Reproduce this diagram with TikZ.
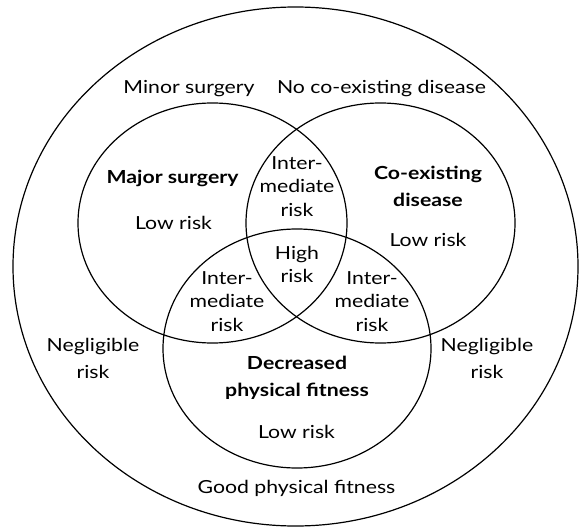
\documentclass[tikz,border=0pt]{standalone}
\usepackage{fontspec}
\setmainfont{Lato}[FakeStretch=1.18]
\begin{document}
\begin{tikzpicture}[x=1pt,y=-1pt,
  lbl/.style={font=\fontsize{18}{23.5}\selectfont, align=center, inner sep=0pt},
  blbl/.style={lbl, font=\fontsize{18}{27.5}\selectfont\bfseries},
  neg/.style={lbl, font=\fontsize{18}{27}\selectfont},
  ring/.style={draw=black, line width=1.2pt}]
\useasboundingbox (0,0) rectangle (580,529);
% outer set
\draw[ring] (295.5,266.5) ellipse [x radius=282.5, y radius=259.5];
% three sets
\draw[ring] (212.5,223) ellipse [x radius=134.5, y radius=120];
\draw[ring] (380.5,223) ellipse [x radius=134.5, y radius=120];
\draw[ring] (297,348.5) ellipse [x radius=134, y radius=119.5];
% single-line labels (placed on their baselines)
\node[lbl, anchor=base] (minor) at (189,94) {Minor surgery};
\node[lbl, anchor=base] (noco) at (381.5,94) {No co-existing disease};
\node[blbl, anchor=base] (major) at (172.5,184) {Major surgery};
\node[lbl, anchor=base] (lowA) at (173.5,229.5) {Low risk};
\node[lbl, anchor=base] (lowB) at (428,246.5) {Low risk};
\node[lbl, anchor=base] (lowC) at (296.5,438.5) {Low risk};
\node[lbl, anchor=base] (good) at (296.5,493.5) {Good physical fitness};
% multi-line labels
\node[lbl] (intAB) at (297,186.5) {Inter-\\mediate\\risk};
\node[blbl] (coex) at (428,186.5) {Co-existing\\disease};
\node[lbl] (high) at (297,264.5) {High\\risk};
\node[lbl] (intAC) at (227,301.5) {Inter-\\mediate\\risk};
\node[lbl] (intBC) at (372,301.5) {Inter-\\mediate\\risk};
\node[neg] (negL) at (93,358.5) {Negligible\\risk};
\node[neg] (negR) at (487,358.5) {Negligible\\risk};
\node[blbl] (decr) at (297,378) {Decreased\\physical fitness};
\end{tikzpicture}
\end{document}
